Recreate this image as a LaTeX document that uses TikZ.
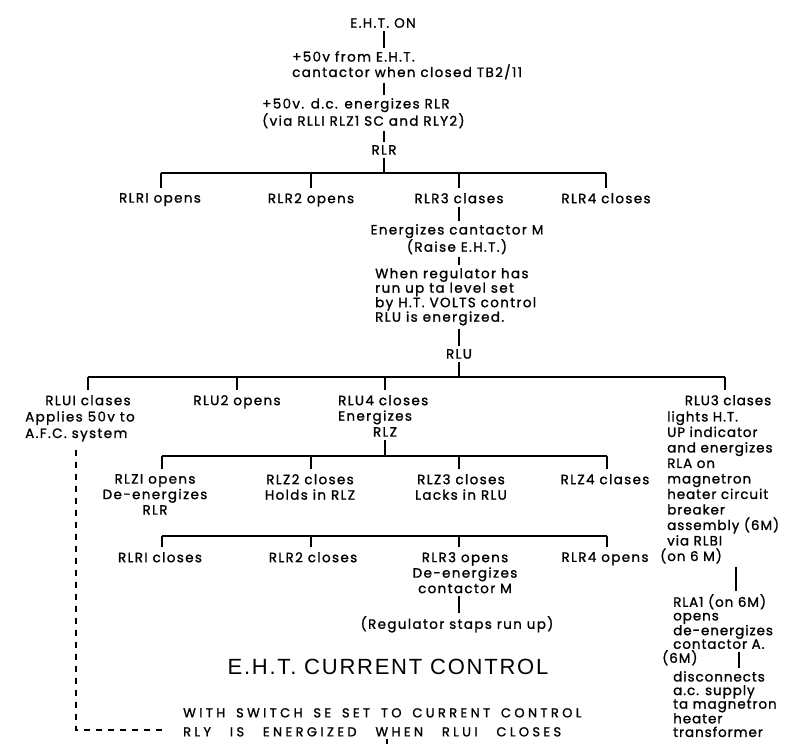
\documentclass[tikz,border=0pt]{standalone}
\usepackage{fontspec}
\setmainfont{Poppins}[FakeBold=1.2, LetterSpace=10]
\newfontfamily\rcolfont{Poppins}[FakeBold=1.2, LetterSpace=7]
\newfontfamily\titlefont{Liberation Sans}[LetterSpace=8]
\newfontfamily\capsfont{Poppins}[FakeBold=1.2, LetterSpace=26]
\newcommand\txt{\fontsize{13.5}{15.5}\selectfont}
\newcommand\txtb{\fontsize{13.5}{14.5}\selectfont}
\newcommand\txtr{\rcolfont\fontsize{13.5}{15.5}\selectfont}
\newcommand\txtc{\rcolfont\fontsize{13.5}{13.6}\selectfont}
\newcommand\wspa{\hspace{4pt}}
\newcommand\wspb{\hspace{12pt}}
\begin{document}
\begin{tikzpicture}[x=1pt,y=-1pt,
  lbl/.style={inner sep=0pt, font=\txt},
  blk/.style={lbl, align=left},
  cblk/.style={lbl, align=center},
  wire/.style={line width=1.2pt},
  gap/.style={shorten <=3pt, shorten >=3pt},
  dashwire/.style={line width=1.1pt, dash pattern=on 6pt off 6pt}]
\useasboundingbox (0,0) rectangle (797,744);

% column coordinates
\coordinate (cT) at (384,0);
\coordinate (k1) at (162,0);
\coordinate (k2) at (311,0);
\coordinate (k3) at (459,0);
\coordinate (k4) at (607,0);
\coordinate (cR) at (736,0);
\coordinate (cR2) at (739,0);

% top chain
\node[lbl, anchor=north] (eht) at (383,18) {E.H.T. ON};
\node[blk, anchor=north west] (v50) at (292,51) {+50v from E.H.T.\\cantactor when closed TB2/11};
\node[blk, anchor=north west] (vdc) at (262,98) {+50v. d.c. energizes RLR\\(via RLLI RLZ1 SC and RLY2)};
\node[lbl, anchor=north] (rlr) at (384,145) {RLR};
\draw[wire,gap] (eht.south -| cT) -- (v50.north -| cT);
\draw[wire,gap] (v50.south -| cT) -- (vdc.north -| cT);
\draw[wire,gap] (vdc.south -| cT) -- (rlr.north);

% RLR tree
\coordinate (ra) at (161,173);
\coordinate (rb) at (606,173);
\draw[wire,shorten <=3pt] (rlr.south) -- (rlr.south |- ra);
\draw[wire] (ra) -- (rb);
\node[lbl, anchor=north] (ra1) at (160,193) {RLRI opens};
\node[lbl, anchor=north] (ra2) at (311,193) {RLR2 opens};
\node[lbl, anchor=north] (ra3) at (459,193) {RLR3 clases};
\node[lbl, anchor=north] (ra4) at (606,193) {RLR4 closes};
\draw[wire, shorten >=5pt] (ra) -- (ra |- ra1.north);
\draw[wire, shorten >=5pt] (k2 |- ra) -- (k2 |- ra2.north);
\draw[wire, shorten >=5pt] (k3 |- ra) -- (k3 |- ra3.north);
\draw[wire, shorten >=5pt] (rb) -- (rb |- ra4.north);

\node[cblk, anchor=north] (enm) at (457,224) {Energizes cantactor M\\(Raise E.H.T.)};
\draw[wire,gap] (ra3.south -| k3) -- (enm.north -| k3);
\node[blk, anchor=north west, font=\txtb] (reg) at (375,268) {When regulator has\\run up ta level set\\by H.T. VOLTS control\\RLU is energized.};
\draw[wire,gap] (enm.south -| k3) -- (reg.north -| k3);
\node[lbl, anchor=north] (rlu) at (459,349) {RLU};
\draw[wire,gap] (reg.south -| k3) -- (rlu.north);

% RLU tree
\coordinate (ua) at (88,377);
\coordinate (ub) at (725,377);
\draw[wire,shorten <=3pt] (rlu.south) -- (rlu.south |- ua);
\draw[wire] (ua) -- (ub);
\node[lbl, anchor=north] (u1) at (88,395) {RLUI clases};
\node[blk, anchor=north west, font={\fontsize{13.5}{16.5}\selectfont}] (afc) at (25,411) {Applies 50v to\\A.F.C. system};
\node[lbl, anchor=north] (u2) at (237,395) {RLU2 opens};
\node[blk, anchor=north west] (u4) at (338,395) {RLU4 closes\\Energizes};
\node[lbl, anchor=north] (rlz) at (385,427) {RLZ};
\node[lbl, anchor=north, font=\txtr] (u3) at (728,395) {RLU3 clases};
\draw[wire, shorten >=5pt] (u1.north |- ua) -- (u1.north);
\draw[wire, shorten >=5pt] (u2.north |- ua) -- (u2.north);
\draw[wire, shorten >=5pt] (rlz.north |- ua) -- (rlz.north |- u4.north);
\draw[wire, shorten >=5pt] (ub) -- (ub |- u3.north);

% RLU3 column
\node[blk, anchor=north west, font=\txtr] (rla) at (667,411) {lights H.T.\\UP indicator\\and energizes\\RLA on\\magnetron\\heater circuit\\breaker\\assembly (6M)\\via RLBI\\\hspace*{-7pt}(on 6 M)};
\node[blk, anchor=north west, font=\txtc] (rla1) at (673,594) {RLA1 (on 6M)\\opens\\de-energizes\\contactor A.};
\draw[wire,gap] (rla.south -| cR) -- (rla1.north -| cR);
\node[lbl, anchor=north west, font=\txtr] (sixm) at (662,650) {(6M)};
\node[blk, anchor=north west, font=\txtc] (disc) at (673,671) {disconnects\\a.c. supply\\ta magnetron\\heater\\transformer};
\draw[wire,gap] (rla1.south -| cR2) -- (disc.north -| cR2);

% RLZ tree
\coordinate (za) at (162,456);
\coordinate (zb) at (607,456);
\draw[wire,shorten <=3pt] (rlz.south) -- (rlz.south |- za);
\draw[wire] (za) -- (zb);
\node[cblk, anchor=north] (z1) at (155,474) {RLZI opens\\De-energizes\\RLR};
\node[cblk, anchor=north] (z2) at (310,474) {RLZ2 closes\\Holds in RLZ};
\node[cblk, anchor=north] (z3) at (461,474) {RLZ3 closes\\Lacks in RLU};
\node[lbl, anchor=north] (z4) at (605,474) {RLZ4 clases};
\draw[wire, shorten >=5pt] (za) -- (za |- z1.north);
\draw[wire, shorten >=5pt] (k2 |- za) -- (k2 |- z2.north);
\draw[wire, shorten >=5pt] (k3 |- za) -- (k3 |- z3.north);
\draw[wire, shorten >=5pt] (zb) -- (zb |- z4.north);

% second RLR row
\coordinate (sa) at (162,536);
\coordinate (sb) at (607,536);
\draw[wire] (sa) -- (sb);
\node[lbl, anchor=north] (s1) at (160,552) {RLRI closes};
\node[lbl, anchor=north] (s2) at (313,552) {RLR2 closes};
\node[cblk, anchor=north] (s3) at (465,552) {RLR3 opens\\De-energizes\\contactor M};
\node[lbl, anchor=north] (s4) at (605,552) {RLR4 opens};
\draw[wire, shorten >=5pt] (sa) -- (sa |- s1.north);
\draw[wire, shorten >=5pt] (k2 |- sa) -- (k2 |- s2.north);
\draw[wire, shorten >=5pt] (k3 |- sa) -- (k3 |- s3.north);
\draw[wire, shorten >=5pt] (sb) -- (sb |- s4.north);
\node[lbl, anchor=north] (stop) at (457,616) {(Regulator staps run up)};
\draw[wire,gap] (s3.south -| k3) -- (stop.north -| k3);

% title and note
\node[inner sep=0pt, font=\titlefont\fontsize{22}{26}\selectfont] (title) at (388,667) {E.H.T. CURRENT CONTROL};
\node[inner sep=0pt, align=left, anchor=north west, font=\capsfont\fontsize{13}{19}\selectfont] (sw) at (183,708) {WITH\wspa{} SWITCH\wspa{} SE\wspa{} SET\wspa{} TO\wspa{} CURRENT\wspa{} CONTROL\\RLY\wspb{} IS\wspb{} ENERGIZED\wspb{} WHEN\wspb{} RLUI\wspb{} CLOSES};
\coordinate (bend) at (387,744);
\draw[wire, shorten <=2pt] (sw.south -| bend) -- (bend);

% dashed link
\coordinate (dc) at (76,730);
\draw[dashwire, shorten <=8pt, shorten >=18pt] (afc.south -| dc) -- (dc) -- (sw.west |- dc);
\end{tikzpicture}
\end{document}
